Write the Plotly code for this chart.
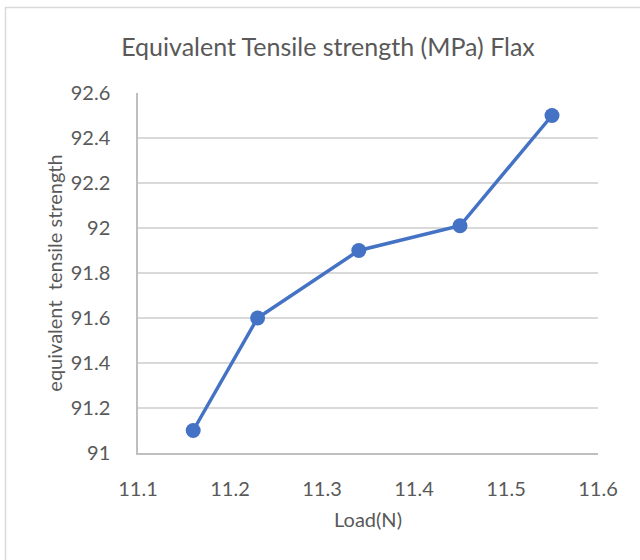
import plotly.graph_objects as go

load_n = [11.16, 11.23, 11.34, 11.45, 11.55]
strength = [91.1, 91.6, 91.9, 92.01, 92.5]
x_ticks = [11.1, 11.2, 11.3, 11.4, 11.5, 11.6]
y_ticks = [91, 91.2, 91.4, 91.6, 91.8, 92, 92.2, 92.4, 92.6]
y_tick_text = ["91", "91.2", "91.4", "91.6", "91.8", "92", "92.2", "92.4", "92.6"]

FONT = "Lato"
TXT = "#595959"

fig = go.Figure()
fig.add_trace(go.Scatter(
    x=load_n, y=strength, mode="lines+markers",
    line=dict(color="#4472C4", width=3.5),
    marker=dict(color="#4472C4", size=15),
    showlegend=False, cliponaxis=False,
))

L, R, T, B = 138, 42, 93, 107
W, H = 640, 560
pw, ph = W - L - R, H - T - B

def px_x(p):
    return (p - L) / pw

def px_y(p):
    return (H - B - p) / ph

fig.update_layout(
    width=W, height=H,
    margin=dict(l=L, r=R, t=T, b=B),
    paper_bgcolor="white", plot_bgcolor="white",
    title=dict(text="Equivalent Tensile strength (MPa) Flax",
               font=dict(family=FONT, size=25, color=TXT),
               x=328 / W, xref="container", xanchor="center",
               y=1 - 47 / H, yref="container", yanchor="middle"),
    xaxis=dict(
        range=[11.1, 11.6], tickvals=x_ticks, ticktext=[str(v) for v in x_ticks],
        showgrid=False, zeroline=False,
        showline=True, linecolor="#BFBFBF", linewidth=1.5,
        ticks="outside", ticklen=0, ticklabelstandoff=17,
        tickfont=dict(family=FONT, size=20, color=TXT),
        title=dict(text="Load(N)", font=dict(family=FONT, size=20, color=TXT), standoff=14),
    ),
    yaxis=dict(
        range=[91, 92.6], tickvals=y_ticks, ticktext=y_tick_text,
        showgrid=True, gridcolor="#D9D9D9", gridwidth=1.5,
        zeroline=False,
        showline=True, linecolor="#BFBFBF", linewidth=1.5,
        ticks="outside", ticklen=0, ticklabelstandoff=22,
        tickfont=dict(family=FONT, size=20, color=TXT),
        title=dict(text="equivalent  tensile strength", font=dict(family=FONT, size=20, color=TXT), standoff=3),
    ),
    shapes=[dict(type="rect", xref="paper", yref="paper",
                 x0=px_x(5.5), x1=px_x(700), y0=px_y(620), y1=px_y(7.5),
                 line=dict(color="#D9D9D9", width=1.5), fillcolor="rgba(0,0,0,0)",
                 layer="below")],
)

fig.write_html("out.html")
